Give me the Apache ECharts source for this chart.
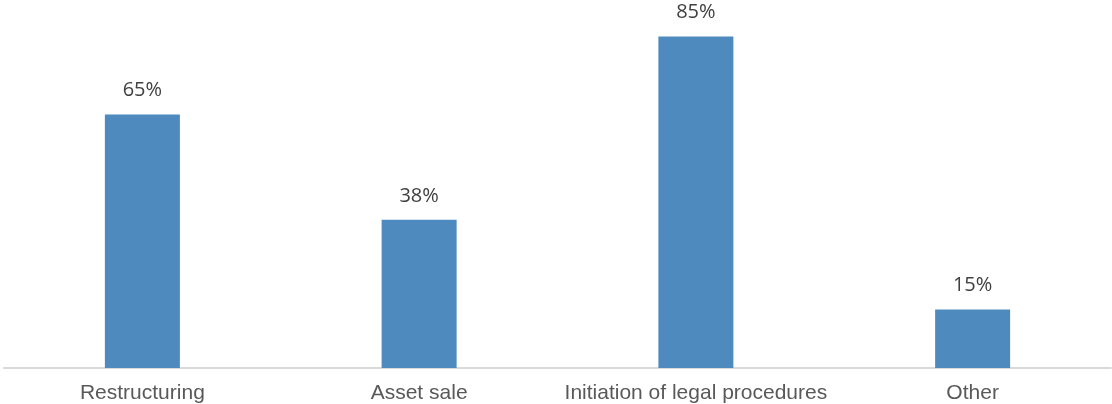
<!DOCTYPE html>
<html>
<head>
<meta charset="utf-8">
<script src="https://cdn.jsdelivr.net/npm/echarts@6/dist/echarts.min.js"></script>
<style>
  html, body { margin: 0; padding: 0; background: #ffffff; }
  #chart { width: 1112px; height: 404px; }
</style>
</head>
<body>
<div id="chart"></div>
<script>
// Responses by action taken (share of respondents, %)
const categories = ['Restructuring', 'Asset sale', 'Initiation of legal procedures', 'Other'];
const shares = [65, 38, 85, 15];

const chart = echarts.init(document.getElementById('chart'), null, { renderer: 'canvas' });

chart.setOption({
  animation: false,
  grid: { left: 4, right: 1, top: 17, bottom: 36, containLabel: false },
  xAxis: {
    type: 'category',
    data: categories,
    axisLine: { show: true, lineStyle: { color: '#d9d9d9', width: 2 } },
    axisTick: { show: false },
    axisLabel: {
      color: '#595959',
      fontFamily: 'Liberation Sans, Arial, sans-serif',
      fontSize: 21,
      margin: 15,
      interval: 0
    }
  },
  yAxis: {
    type: 'value',
    min: 0,
    max: 90,
    show: false,
    splitLine: { show: false }
  },
  series: [{
    type: 'bar',
    data: shares,
    barWidth: 75,
    itemStyle: { color: '#4F8ABE' },
    label: {
      show: true,
      position: 'top',
      distance: 14,
      formatter: '{c}%',
      color: '#404040',
      fontFamily: 'Open Sans, sans-serif',
      fontSize: 20
    }
  }]
});
</script>
</body>
</html>
